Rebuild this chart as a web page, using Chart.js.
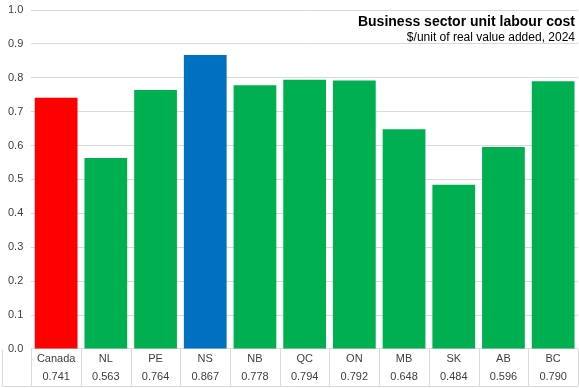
<!DOCTYPE html>
<html>
<head>
<meta charset="utf-8">
<script src="https://cdn.jsdelivr.net/npm/chart.js@4/dist/chart.umd.min.js"></script>
<style>
  html, body { margin:0; padding:0; background:#fff; }
  #wrap { width:579px; height:388px; }
</style>
</head>
<body>
<div id="wrap"><canvas id="chart" width="579" height="388"></canvas></div>
<script>
// ----------------- DATA -----------------
const categories = ['Canada','NL','PE','NS','NB','QC','ON','MB','SK','AB','BC'];
const costs = [0.741, 0.563, 0.764, 0.867, 0.778, 0.794, 0.792, 0.648, 0.484, 0.596, 0.790];
const barColors = ['#ff0000','#00b050','#00b050','#0070c0','#00b050','#00b050','#00b050','#00b050','#00b050','#00b050','#00b050'];
const yTicks = [0, 0.1, 0.2, 0.3, 0.4, 0.5, 0.6, 0.7, 0.8, 0.9, 1.0];
const titleText = 'Business sector unit labour cost';
const subtitleText = '$/unit of real value added, 2024';
// ----------------------------------------

const GRID = '#d9d9d9';
const FONT = "'Liberation Sans', Arial, sans-serif";

// x labels carry the data table row: name + value
const xLabels = categories.map((c, i) => [c, costs[i].toFixed(3)]);

// no automatic label overhang padding; layout padding decides the plot area
const noOverhang = s => { s.paddingTop = 0; s.paddingBottom = 0; s.paddingLeft = 0; s.paddingRight = 0; };

// draws the title block and the data-table lines under the axis
const tablePlugin = {
  id: 'tableLines',
  afterDraw(chart){
    const ctx = chart.ctx;
    const area = chart.chartArea;
    const n = categories.length;
    const w = (area.right - area.left) / n;
    const bottom = Math.min(area.bottom + 38, chart.height - 2);
    ctx.save();
    ctx.strokeStyle = GRID;
    ctx.lineWidth = 1;
    ctx.beginPath();
    for(let i=0;i<=n;i++){
      const x = Math.round(area.left + i*w) + 0.5;
      ctx.moveTo(x, area.bottom);
      ctx.lineTo(x, bottom);
    }
    ctx.moveTo(2.5, area.bottom + 1);
    ctx.lineTo(2.5, bottom);
    ctx.moveTo(2.5, bottom + 0.5);
    ctx.lineTo(area.right, bottom + 0.5);
    ctx.stroke();

    // title inside plot area, top right
    ctx.fillStyle = '#000';
    ctx.textAlign = 'right';
    ctx.textBaseline = 'middle';
    ctx.font = "bold 14px " + FONT;
    ctx.fillText(titleText, area.right - 3, 22);
    ctx.font = "12px " + FONT;
    ctx.fillText(subtitleText, area.right - 3, 38);
    ctx.restore();
  }
};

new Chart(document.getElementById('chart').getContext('2d'), {
  type: 'bar',
  data: {
    labels: xLabels,
    datasets: [{
      data: costs,
      backgroundColor: barColors,
      borderWidth: 0,
      categoryPercentage: 1.0,
      barPercentage: 0.86
    }]
  },
  options: {
    responsive: false,
    animation: false,
    layout: { padding: { top: 10, right: 1, bottom: 1, left: 0 } },
    plugins: { legend: { display:false }, tooltip: { enabled:false } },
    scales: {
      x: {
        afterFit: noOverhang,
        grid: { display:false, drawTicks:false },
        border: { display:false },
        ticks: {
          color: '#404040',
          font: { family: FONT, size: 11, lineHeight: 1.55 },
          padding: 2,
          maxRotation: 0,
          autoSkip: false
        }
      },
      y: {
        min: 0, max: 1.0,
        afterFit: noOverhang,
        afterBuildTicks(axis){ axis.ticks = yTicks.map(v => ({ value: v })); },
        grid: { color: GRID, drawTicks: false },
        border: { display:false },
        ticks: {
          color: '#404040',
          font: { family: FONT, size: 11 },
          padding: 8,
          callback: v => v.toFixed(1)
        }
      }
    }
  },
  plugins: [tablePlugin]
});
</script>
</body>
</html>
